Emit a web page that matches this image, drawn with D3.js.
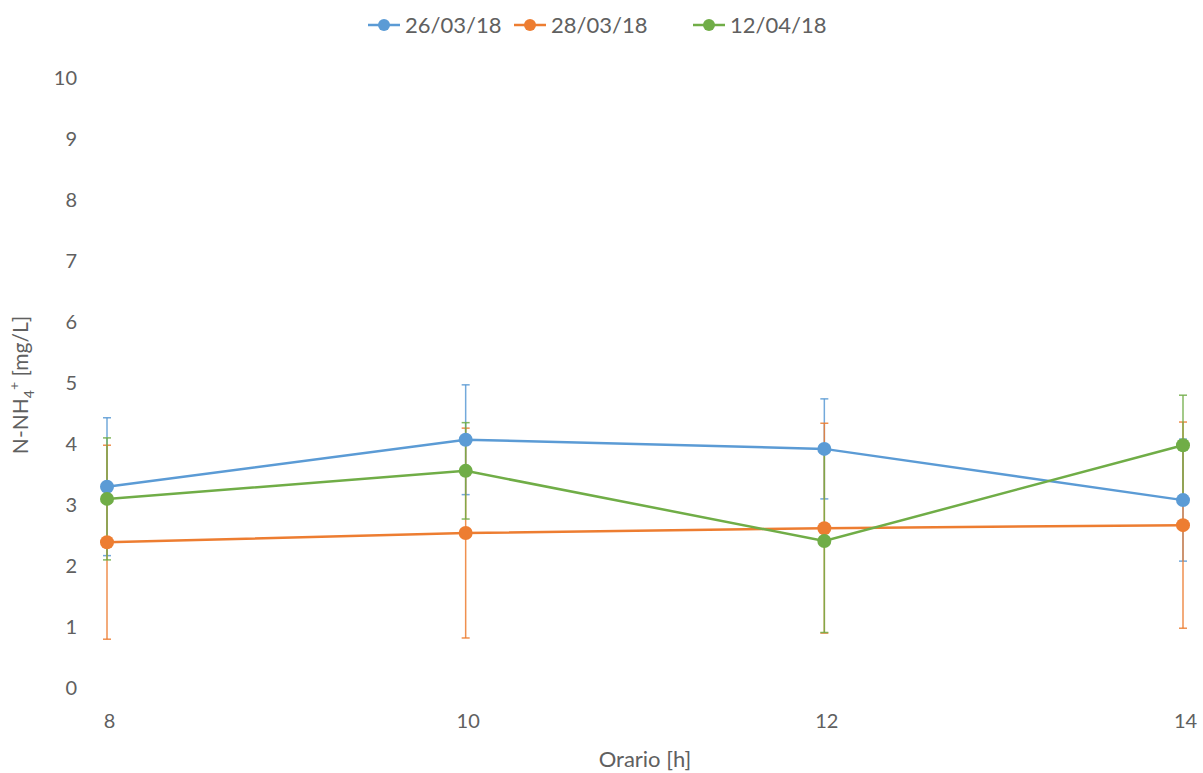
<!DOCTYPE html>
<html><head><meta charset="utf-8">
<script src="https://cdn.jsdelivr.net/npm/d3@7"></script>
<style>body{margin:0;background:#fff;} text{font-family:Lato,"Open Sans",sans-serif;fill:#606060;}</style>
</head><body>
<svg id="c" width="1203" height="773"></svg>
<script>
const hours = [8, 10, 12, 14];
const seriesNames = ["26/03/18", "28/03/18", "12/04/18"];
const seriesColors = ["#5B9BD5", "#ED7D31", "#70AD47"];
const valsA = [3.30, 4.07, 3.92, 3.08];
const valsB = [2.39, 2.54, 2.62, 2.67];
const valsC = [3.10, 3.56, 2.41, 3.98];
const errA = [1.13, 0.90, 0.82, 1.00];
const errB = [1.59, 1.72, 1.72, 1.69];
const errC = [1.00, 0.79, 1.50, 0.82];
const yTicks = [0,1,2,3,4,5,6,7,8,9,10];

const series = [
  {name: seriesNames[0], color: seriesColors[0], v: valsA, e: errA},
  {name: seriesNames[1], color: seriesColors[1], v: valsB, e: errB},
  {name: seriesNames[2], color: seriesColors[2], v: valsC, e: errC}
];

const svg = d3.select("#c");
const x = d3.scaleLinear().domain([8,14]).range([107,1183]);
const y = d3.scaleLinear().domain([0,10]).range([688,78]);

// y axis
const ya = svg.append("g").attr("transform","translate(80,0)")
  .call(d3.axisLeft(y).tickValues(yTicks).tickFormat(d3.format("d")).tickSize(0).tickPadding(3));
ya.select(".domain").remove();
ya.selectAll("text").style("font-size","20px").style("fill","#606060").style("font-family","Lato");

// x axis
const xa = svg.append("g").attr("transform","translate(2,714)")
  .call(d3.axisBottom(x).tickValues(hours).tickFormat(d3.format("d")).tickSize(0).tickPadding(0));
xa.select(".domain").remove();
xa.selectAll("text").style("font-size","20px").style("fill","#606060").style("font-family","Lato");

// axis titles
svg.append("text").attr("x",645).attr("y",767).attr("text-anchor","middle")
  .style("font-size","22px").text("Orario [h]");
const yt = svg.append("text").attr("transform","translate(28,385) rotate(-90)")
  .attr("text-anchor","middle").style("font-size","21px");
yt.append("tspan").text("N-NH");
yt.append("tspan").attr("dy",6).style("font-size","14px").text("4");
yt.append("tspan").attr("dy",-15).style("font-size","14px").text("+");
yt.append("tspan").attr("dy",9).text(" [mg/L]");

// error bars
series.forEach(s => {
  const g = svg.append("g");
  hours.forEach((h,i) => {
    const cx = x(h), top = y(s.v[i]+s.e[i]), bot = y(s.v[i]-s.e[i]);
    g.append("line").attr("x1",cx).attr("x2",cx).attr("y1",top).attr("y2",bot)
      .attr("stroke",s.color).attr("stroke-width",1.5).attr("opacity",0.85);
    [top,bot].forEach(yy => g.append("line").attr("x1",cx-4).attr("x2",cx+4).attr("y1",yy).attr("y2",yy)
      .attr("stroke",s.color).attr("stroke-width",1.5).attr("opacity",0.85));
  });
});

// lines and markers
const line = d3.line().x((d,i)=>x(hours[i])).y(d=>y(d));
series.forEach(s => {
  svg.append("path").datum(s.v).attr("d",line).attr("fill","none")
    .attr("stroke",s.color).attr("stroke-width",2.5);
  svg.append("g").selectAll("circle").data(s.v).join("circle")
    .attr("cx",(d,i)=>x(hours[i])).attr("cy",d=>y(d)).attr("r",7)
    .attr("fill",s.color);
});

// legend
const legX = [368, 514, 693];
series.forEach((s,i) => {
  const g = svg.append("g").attr("transform",`translate(${legX[i]},25)`);
  g.append("line").attr("x1",0).attr("x2",32).attr("y1",0).attr("y2",0)
    .attr("stroke",s.color).attr("stroke-width",2.5);
  g.append("circle").attr("cx",16).attr("cy",0).attr("r",6).attr("fill",s.color);
  g.append("text").attr("x",37).attr("y",8).style("font-size","22px").text(s.name);
});
</script>
</body></html>
